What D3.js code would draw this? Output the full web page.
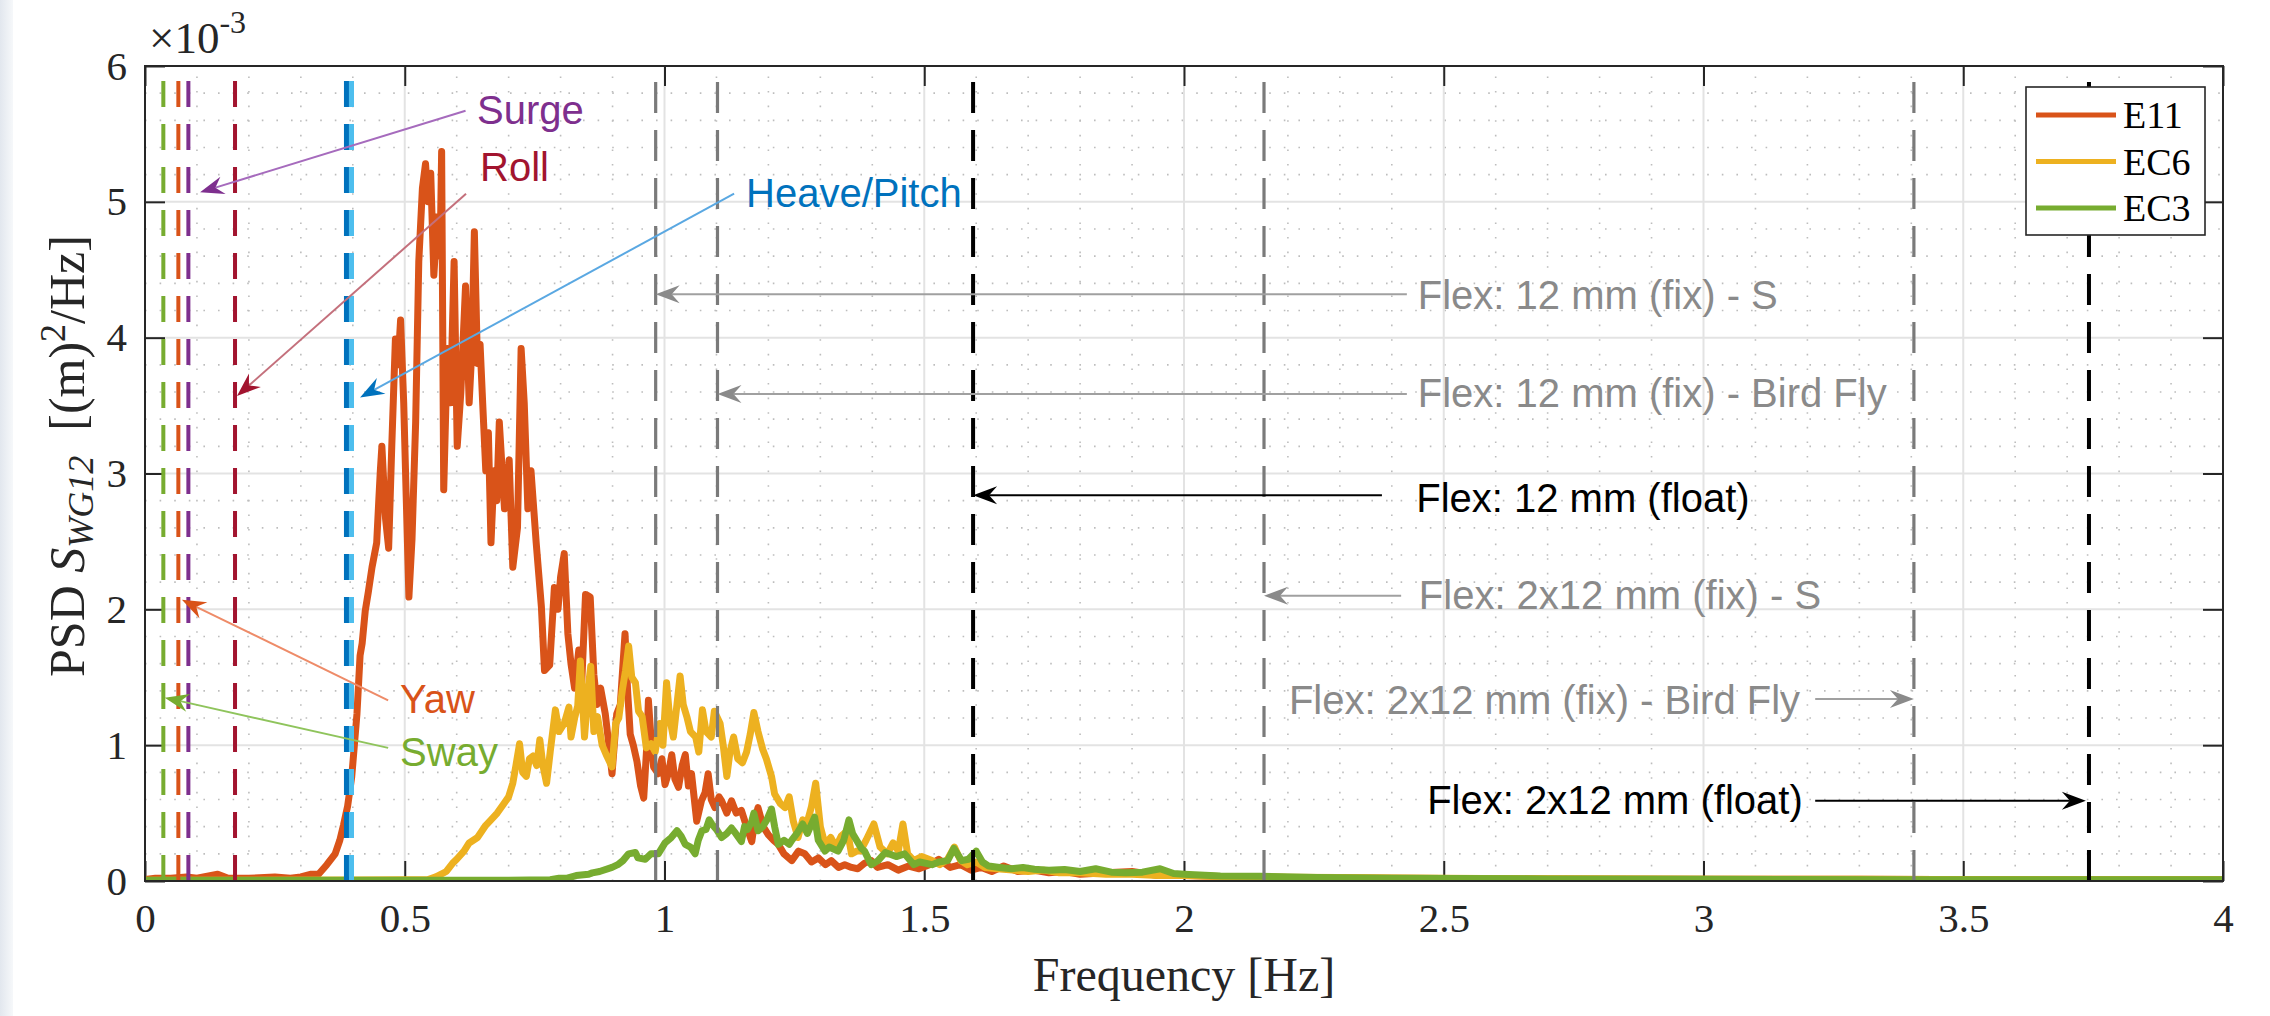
<!DOCTYPE html>
<html><head><meta charset="utf-8">
<script src="https://cdn.jsdelivr.net/npm/d3@7"></script>
<style>body{margin:0;background:#fff;} svg{display:block}</style>
</head><body>
<svg id="chart" width="2270" height="1016"></svg>
<script>
// ---------- data (frequency [Hz], PSD [x1e-3 m^2/Hz]) ----------
const e11 = [[0,0.01],[0.02,0.02],[0.05,0.02],[0.08,0.03],[0.1,0.02],[0.14,0.05],[0.16,0.02],[0.2,0.02],[0.25,0.03],[0.28,0.02],[0.3,0.03],[0.32,0.05],[0.334,0.05],[0.35,0.12],[0.366,0.2],[0.375,0.3],[0.382,0.41],[0.39,0.55],[0.398,0.77],[0.403,1.0],[0.408,1.23],[0.414,1.66],[0.418,1.75],[0.424,1.99],[0.43,2.13],[0.437,2.31],[0.446,2.49],[0.45,2.8],[0.453,3.02],[0.456,3.2],[0.46,2.9],[0.463,2.67],[0.469,2.45],[0.475,3.2],[0.482,3.99],[0.487,3.8],[0.492,4.13],[0.498,3.52],[0.503,2.8],[0.508,2.09],[0.514,2.52],[0.521,3.38],[0.527,4.56],[0.534,5.1],[0.54,5.28],[0.545,5.0],[0.55,5.21],[0.556,4.46],[0.563,4.89],[0.568,4.6],[0.571,5.37],[0.575,2.88],[0.582,3.92],[0.588,3.52],[0.595,4.56],[0.601,3.2],[0.608,3.6],[0.617,4.38],[0.624,3.52],[0.629,3.9],[0.634,4.78],[0.64,3.81],[0.645,3.95],[0.65,3.52],[0.656,3.02],[0.661,3.3],[0.666,2.49],[0.672,3.02],[0.677,2.8],[0.682,3.38],[0.692,2.74],[0.701,3.1],[0.708,2.31],[0.717,2.6],[0.724,3.92],[0.73,3.52],[0.737,2.74],[0.743,3.02],[0.753,2.49],[0.763,2.02],[0.769,1.55],[0.779,1.59],[0.788,2.16],[0.795,2.0],[0.8,2.24],[0.807,2.41],[0.814,1.82],[0.82,1.6],[0.827,1.42],[0.835,1.7],[0.84,1.4],[0.848,2.11],[0.857,2.09],[0.864,1.52],[0.87,1.3],[0.877,1.42],[0.886,1.23],[0.893,1.0],[0.899,0.79],[0.908,1.23],[0.915,1.3],[0.924,1.82],[0.929,1.4],[0.934,1.08],[0.94,1.0],[0.947,0.88],[0.954,0.7],[0.96,0.61],[0.966,1.0],[0.969,1.33],[0.975,1.0],[0.979,0.84],[0.988,0.79],[0.995,0.9],[1.001,0.71],[1.008,0.8],[1.014,0.93],[1.02,0.75],[1.027,0.69],[1.034,0.85],[1.04,0.93],[1.046,0.7],[1.052,0.79],[1.062,0.44],[1.071,0.59],[1.078,0.65],[1.084,0.79],[1.09,0.6],[1.097,0.54],[1.105,0.62],[1.11,0.59],[1.12,0.5],[1.129,0.59],[1.138,0.5],[1.148,0.52],[1.158,0.4],[1.168,0.29],[1.174,0.45],[1.18,0.54],[1.19,0.4],[1.2,0.34],[1.21,0.3],[1.219,0.27],[1.23,0.2],[1.245,0.15],[1.258,0.22],[1.27,0.2],[1.283,0.14],[1.296,0.17],[1.31,0.12],[1.321,0.15],[1.335,0.1],[1.347,0.12],[1.36,0.1],[1.372,0.09],[1.385,0.13],[1.398,0.15],[1.41,0.1],[1.43,0.12],[1.45,0.08],[1.47,0.11],[1.49,0.09],[1.51,0.12],[1.528,0.16],[1.55,0.1],[1.57,0.12],[1.59,0.08],[1.61,0.1],[1.63,0.07],[1.653,0.11],[1.68,0.07],[1.71,0.08],[1.74,0.06],[1.77,0.07],[1.8,0.05],[1.85,0.06],[1.9,0.07],[1.95,0.04],[2.0,0.04],[2.05,0.035],[2.1,0.03],[2.2,0.025],[2.3,0.022],[2.4,0.02],[2.5,0.018],[2.7,0.015],[3.0,0.012],[3.3,0.012],[3.6,0.01],[4.0,0.01]];
const ec6 = [[0,0.005],[0.2,0.005],[0.4,0.008],[0.5,0.01],[0.545,0.01],[0.56,0.03],[0.58,0.07],[0.592,0.13],[0.6,0.16],[0.614,0.22],[0.624,0.28],[0.632,0.3],[0.64,0.32],[0.656,0.41],[0.666,0.45],[0.678,0.5],[0.691,0.57],[0.7,0.62],[0.708,0.72],[0.714,0.85],[0.721,1.01],[0.727,0.8],[0.734,0.77],[0.74,0.9],[0.747,0.92],[0.754,0.85],[0.76,1.04],[0.766,0.85],[0.773,0.72],[0.78,0.95],[0.79,1.26],[0.797,1.1],[0.807,1.16],[0.816,1.28],[0.82,1.06],[0.827,1.2],[0.833,1.29],[0.838,1.62],[0.846,1.06],[0.854,1.45],[0.858,1.58],[0.864,1.1],[0.871,1.21],[0.88,1.0],[0.889,0.92],[0.899,0.84],[0.906,1.16],[0.912,1.2],[0.919,1.41],[0.925,1.55],[0.931,1.73],[0.937,1.5],[0.944,1.46],[0.95,1.25],[0.957,1.21],[0.965,0.98],[0.974,1.01],[0.982,0.95],[0.991,1.16],[0.997,1.0],[1.004,1.46],[1.01,1.2],[1.017,1.06],[1.024,1.3],[1.03,1.51],[1.036,1.3],[1.043,1.21],[1.05,1.1],[1.06,1.06],[1.066,0.95],[1.073,1.26],[1.08,1.1],[1.09,1.06],[1.096,1.25],[1.107,1.16],[1.113,1.0],[1.12,0.77],[1.126,0.95],[1.133,1.06],[1.141,0.9],[1.15,0.87],[1.158,0.95],[1.165,1.08],[1.172,1.24],[1.18,1.1],[1.189,0.97],[1.196,0.9],[1.206,0.77],[1.212,0.64],[1.223,0.57],[1.232,0.54],[1.24,0.62],[1.248,0.44],[1.257,0.32],[1.266,0.45],[1.274,0.42],[1.283,0.55],[1.291,0.72],[1.3,0.4],[1.309,0.27],[1.32,0.32],[1.33,0.25],[1.34,0.33],[1.352,0.37],[1.36,0.2],[1.37,0.22],[1.377,0.22],[1.388,0.3],[1.403,0.42],[1.415,0.25],[1.429,0.2],[1.44,0.28],[1.45,0.22],[1.459,0.42],[1.468,0.2],[1.48,0.15],[1.495,0.18],[1.515,0.15],[1.53,0.12],[1.545,0.16],[1.558,0.25],[1.57,0.15],[1.583,0.12],[1.6,0.14],[1.617,0.1],[1.64,0.09],[1.67,0.08],[1.7,0.07],[1.73,0.08],[1.76,0.06],[1.8,0.06],[1.85,0.05],[1.9,0.05],[1.95,0.04],[2.0,0.04],[2.1,0.03],[2.2,0.028],[2.3,0.025],[2.4,0.022],[2.5,0.02],[2.7,0.016],[3.0,0.013],[3.3,0.012],[3.6,0.01],[4.0,0.01]];
const ec3 = [[0,0.005],[0.5,0.005],[0.7,0.006],[0.78,0.01],[0.797,0.02],[0.811,0.02],[0.83,0.04],[0.854,0.05],[0.861,0.06],[0.875,0.07],[0.899,0.1],[0.91,0.12],[0.92,0.15],[0.931,0.2],[0.944,0.21],[0.949,0.17],[0.963,0.16],[0.974,0.2],[0.988,0.2],[1.001,0.28],[1.013,0.32],[1.024,0.37],[1.032,0.33],[1.04,0.27],[1.05,0.25],[1.059,0.2],[1.065,0.3],[1.072,0.37],[1.08,0.38],[1.086,0.45],[1.091,0.42],[1.1,0.38],[1.11,0.32],[1.12,0.35],[1.129,0.39],[1.137,0.35],[1.148,0.29],[1.154,0.4],[1.16,0.38],[1.168,0.44],[1.172,0.5],[1.18,0.37],[1.189,0.4],[1.197,0.45],[1.206,0.53],[1.212,0.4],[1.219,0.27],[1.23,0.3],[1.24,0.27],[1.245,0.3],[1.255,0.35],[1.266,0.42],[1.275,0.35],[1.289,0.47],[1.296,0.3],[1.309,0.22],[1.317,0.25],[1.334,0.22],[1.345,0.3],[1.355,0.45],[1.362,0.35],[1.379,0.24],[1.385,0.22],[1.398,0.12],[1.411,0.15],[1.425,0.21],[1.446,0.18],[1.462,0.2],[1.48,0.12],[1.491,0.14],[1.515,0.12],[1.528,0.14],[1.545,0.15],[1.557,0.24],[1.572,0.15],[1.585,0.16],[1.6,0.22],[1.612,0.14],[1.624,0.11],[1.645,0.1],[1.668,0.09],[1.69,0.1],[1.712,0.087],[1.74,0.08],[1.77,0.085],[1.8,0.07],[1.83,0.09],[1.86,0.065],[1.888,0.06],[1.92,0.065],[1.954,0.09],[1.98,0.055],[2.0,0.05],[2.07,0.037],[2.146,0.035],[2.256,0.025],[2.403,0.02],[2.526,0.018],[2.7,0.015],[3.0,0.012],[3.4,0.01],[4.0,0.01]];
const seriesNames = ["E11","EC6","EC3"];
const seriesColors = ["#D95319","#EDB120","#77AC30"];

const xTicks = [0,0.5,1,1.5,2,2.5,3,3.5,4];
const xTickLabels = ["0","0.5","1","1.5","2","2.5","3","3.5","4"];
const yTicks = [0,1,2,3,4,5,6];
const yTickLabels = ["0","1","2","3","4","5","6"];

// rigid-body mode frequencies (coloured dashed lines)
const modeFreqs = [0.0353,0.0642,0.0835,0.1733,0.3878,0.3975];
const modeColors = ["#77AC30","#D95319","#7E2F8E","#A2142F","#0072BD","#4DBEEE"];
// flexible-mode frequencies (grey / black dashed lines)
const flexFreqs = [0.983,1.102,1.594,2.154,3.405,3.742];
const flexColors = ["#7a7a7a","#7a7a7a","#000000","#7a7a7a","#7a7a7a","#000000"];

// annotations: text anchor (f,v), arrow start (f,v), arrow tip (f,v)
const modeNotes = [
  {text:"Surge", color:"#7E2F8E", line:"#a66bbd", t:[0.639,5.57], s:[0.617,5.67], e:[0.106,5.07]},
  {text:"Roll", color:"#A2142F", line:"#c4707c", t:[0.645,5.15], s:[0.618,5.06], e:[0.177,3.57]},
  {text:"Heave/Pitch", color:"#0072BD", line:"#5aa8e2", t:[1.157,4.96], s:[1.134,5.06], e:[0.414,3.56]},
  {text:"Yaw", color:"#D95319", line:"#ee8b68", t:[0.491,1.235], s:[0.468,1.33], e:[0.071,2.07]},
  {text:"Sway", color:"#77AC30", line:"#8fc45c", t:[0.491,0.85], s:[0.468,0.98], e:[0.038,1.35]}
];
const flexNotes = [
  {text:"Flex: 12 mm (fix) - S", color:"#8a8a8a", t:[2.45,4.21], s:[2.429,4.32], e:[0.983,4.32]},
  {text:"Flex: 12 mm (fix) - Bird Fly", color:"#8a8a8a", t:[2.45,3.49], s:[2.429,3.585], e:[1.102,3.585]},
  {text:"Flex: 12 mm (float)", color:"#000000", t:[2.447,2.72], s:[2.381,2.84], e:[1.594,2.84]},
  {text:"Flex: 2x12 mm (fix) - S", color:"#8a8a8a", t:[2.452,2.0], s:[2.418,2.10], e:[2.154,2.10]},
  {text:"Flex: 2x12 mm (fix) - Bird Fly", color:"#8a8a8a", t:[2.202,1.23], s:[3.215,1.34], e:[3.405,1.34]},
  {text:"Flex: 2x12 mm (float)", color:"#000000", t:[2.468,0.49], s:[3.215,0.59], e:[3.736,0.59]}
];

// ---------- drawing ----------
const svg = d3.select("#chart");
const L = 145, R = 2223, T = 66, B = 881;
const x = d3.scaleLinear().domain([0,4]).range([L,R]);
const y = d3.scaleLinear().domain([0,6]).range([B,T]);
const serif = "'Liberation Serif','Times New Roman',serif";
const sans = "'Liberation Sans',Arial,Helvetica,sans-serif";

// left page band
const defs = svg.append("defs");
const lg = defs.append("linearGradient").attr("id","band").attr("x1","0").attr("x2","1");
lg.append("stop").attr("offset","0").attr("stop-color","#e2e7ee");
lg.append("stop").attr("offset","1").attr("stop-color","#f6f8fa");
svg.append("rect").attr("x",0).attr("y",0).attr("width",13).attr("height",1016).attr("fill","url(#band)");
defs.append("clipPath").attr("id","clip").append("rect").attr("x",L).attr("y",T).attr("width",R-L).attr("height",B-T);

// grid
const grid = svg.append("g");
const minorX = d3.range(0,40).map(i=>i/10).filter(v=>Math.abs(v*2-Math.round(v*2))>1e-6);
const minorY = d3.range(0,30).map(i=>i/5).filter(v=>Math.abs(v-Math.round(v))>1e-6);
grid.selectAll(".mx").data(minorX).join("line")
  .attr("x1",d=>x(d)).attr("x2",d=>x(d)).attr("y1",B).attr("y2",T)
  .attr("stroke","#bdbdbd").attr("stroke-width",1.6).attr("stroke-dasharray","1.6,13");
grid.selectAll(".my").data(minorY).join("line")
  .attr("x1",L).attr("x2",R).attr("y1",d=>y(d)).attr("y2",d=>y(d))
  .attr("stroke","#bdbdbd").attr("stroke-width",1.6).attr("stroke-dasharray","1.6,13");
grid.selectAll(".gx").data(xTicks.slice(1,-1)).join("line")
  .attr("x1",d=>x(d)).attr("x2",d=>x(d)).attr("y1",B).attr("y2",T)
  .attr("stroke","#e3e3e3").attr("stroke-width",2);
grid.selectAll(".gy").data(yTicks.slice(1,-1)).join("line")
  .attr("x1",L).attr("x2",R).attr("y1",d=>y(d)).attr("y2",d=>y(d))
  .attr("stroke","#e3e3e3").attr("stroke-width",2);

// axes
function styleAxis(g){
  g.select(".domain").remove();
  g.selectAll(".tick line").attr("stroke","#262626").attr("stroke-width",2);
  g.selectAll(".tick text").attr("font-family",serif).attr("font-size",41).attr("fill","#262626");
}
svg.append("g").attr("transform",`translate(0,${B})`)
  .call(d3.axisBottom(x).tickValues(xTicks).tickFormat((d,i)=>xTickLabels[i]).tickSizeInner(-20).tickSizeOuter(0).tickPadding(22))
  .call(styleAxis);
svg.append("g").attr("transform",`translate(0,${T})`)
  .call(d3.axisTop(x).tickValues(xTicks).tickFormat("").tickSizeInner(-20).tickSizeOuter(0))
  .call(styleAxis);
svg.append("g").attr("transform",`translate(${L},0)`)
  .call(d3.axisLeft(y).tickValues(yTicks).tickFormat((d,i)=>yTickLabels[i]).tickSizeInner(-20).tickSizeOuter(0).tickPadding(18))
  .call(styleAxis);
svg.append("g").attr("transform",`translate(${R},0)`)
  .call(d3.axisRight(y).tickValues(yTicks).tickFormat("").tickSizeInner(-20).tickSizeOuter(0))
  .call(styleAxis);

// curves
const line = d3.line().x(d=>x(d[0])).y(d=>y(d[1]));
const curves = svg.append("g").attr("clip-path","url(#clip)");
[e11,ec6,ec3].forEach((s,i)=>{
  curves.append("path").attr("d",line(s)).attr("fill","none")
    .attr("stroke",seriesColors[i]).attr("stroke-width",7)
    .attr("stroke-linejoin","round").attr("stroke-linecap","round");
});

// dashed frequency lines
const vl = svg.append("g");
vl.selectAll(".mode").data(modeFreqs).join("line")
  .attr("x1",d=>x(d)).attr("x2",d=>x(d)).attr("y1",y(0)).attr("y2",y(6))
  .attr("stroke",(d,i)=>modeColors[i]).attr("stroke-width",(d,i)=>i>=4?5:4)
  .attr("stroke-dasharray","26,17");
vl.selectAll(".flex").data(flexFreqs).join("line")
  .attr("x1",d=>x(d)).attr("x2",d=>x(d)).attr("y1",y(0)).attr("y2",y(6))
  .attr("stroke",(d,i)=>flexColors[i]).attr("stroke-width",(d,i)=>flexColors[i]==="#000000"?4:3.2)
  .attr("stroke-dasharray","31,17");

// arrows
function arrow(g, s, e, lineColor, headColor, lw){
  const x1=x(s[0]), y1=y(s[1]), x2=x(e[0]), y2=y(e[1]);
  const dx=x2-x1, dy=y2-y1, len=Math.hypot(dx,dy), ux=dx/len, uy=dy/len, nx=-uy, ny=ux;
  const Lh=24, w=9, notch=8;
  g.append("line").attr("x1",x1).attr("y1",y1).attr("x2",x2-ux*(Lh-notch)).attr("y2",y2-uy*(Lh-notch))
    .attr("stroke",lineColor).attr("stroke-width",lw);
  const p=[[x2,y2],[x2-ux*Lh+nx*w,y2-uy*Lh+ny*w],[x2-ux*(Lh-notch),y2-uy*(Lh-notch)],[x2-ux*Lh-nx*w,y2-uy*Lh-ny*w]];
  g.append("path").attr("d","M"+p.map(q=>q.join(",")).join("L")+"Z").attr("fill",headColor);
}
const ann = svg.append("g");
modeNotes.forEach(n=>{
  arrow(ann, n.s, n.e, n.line, n.color, 2);
  ann.append("text").attr("x",x(n.t[0])).attr("y",y(n.t[1])).text(n.text)
    .attr("font-family",sans).attr("font-size",40).attr("fill",n.color);
});
flexNotes.forEach(n=>{
  const lc = n.color==="#000000"?"#000000":"#a0a0a0";
  const hc = n.color==="#000000"?"#000000":"#8a8a8a";
  arrow(ann, n.s, n.e, lc, hc, 2);
  ann.append("text").attr("x",x(n.t[0])).attr("y",y(n.t[1])).text(n.text)
    .attr("font-family",sans).attr("font-size",40).attr("fill",n.color);
});

// axes box
svg.append("rect").attr("x",L).attr("y",T).attr("width",R-L).attr("height",B-T)
  .attr("fill","none").attr("stroke","#262626").attr("stroke-width",2);

// exponent label
const ex = svg.append("text").attr("x",149).attr("y",53).attr("font-family",serif).attr("fill","#262626");
ex.append("tspan").attr("font-size",45).text("\u00d710");
ex.append("tspan").attr("font-size",32).attr("dy",-20).text("-3");

// axis labels
svg.append("text").attr("x",(L+R)/2).attr("y",991).attr("text-anchor","middle")
  .attr("font-family",serif).attr("font-size",48).attr("fill","#262626").text("Frequency [Hz]");
const yl = svg.append("text").attr("transform","translate(84,456) rotate(-90)").attr("text-anchor","middle")
  .attr("font-family",serif).attr("font-size",50).attr("fill","#262626");
yl.append("tspan").text("PSD ");
yl.append("tspan").attr("font-style","italic").text("S");
yl.append("tspan").attr("font-style","italic").attr("font-size",36).attr("dy",9).text("WG12");
yl.append("tspan").attr("dy",-9).text("\u2002[(m)");
yl.append("tspan").attr("font-size",36).attr("dy",-19).text("2");
yl.append("tspan").attr("dy",19).text("/Hz]");

// legend
const lgX=2026, lgY=87, lgW=179, lgH=148;
const leg = svg.append("g");
leg.append("rect").attr("x",lgX).attr("y",lgY).attr("width",lgW).attr("height",lgH)
  .attr("fill","#fff").attr("stroke","#262626").attr("stroke-width",1.6);
seriesNames.forEach((nm,i)=>{
  const yy = lgY+28+i*46.5;
  leg.append("line").attr("x1",lgX+10).attr("x2",lgX+90).attr("y1",yy).attr("y2",yy)
    .attr("stroke",seriesColors[i]).attr("stroke-width",5);
  leg.append("text").attr("x",lgX+97).attr("y",yy+13).attr("font-family",serif).attr("font-size",38)
    .attr("fill","#000").text(nm);
});
</script>
</body></html>
